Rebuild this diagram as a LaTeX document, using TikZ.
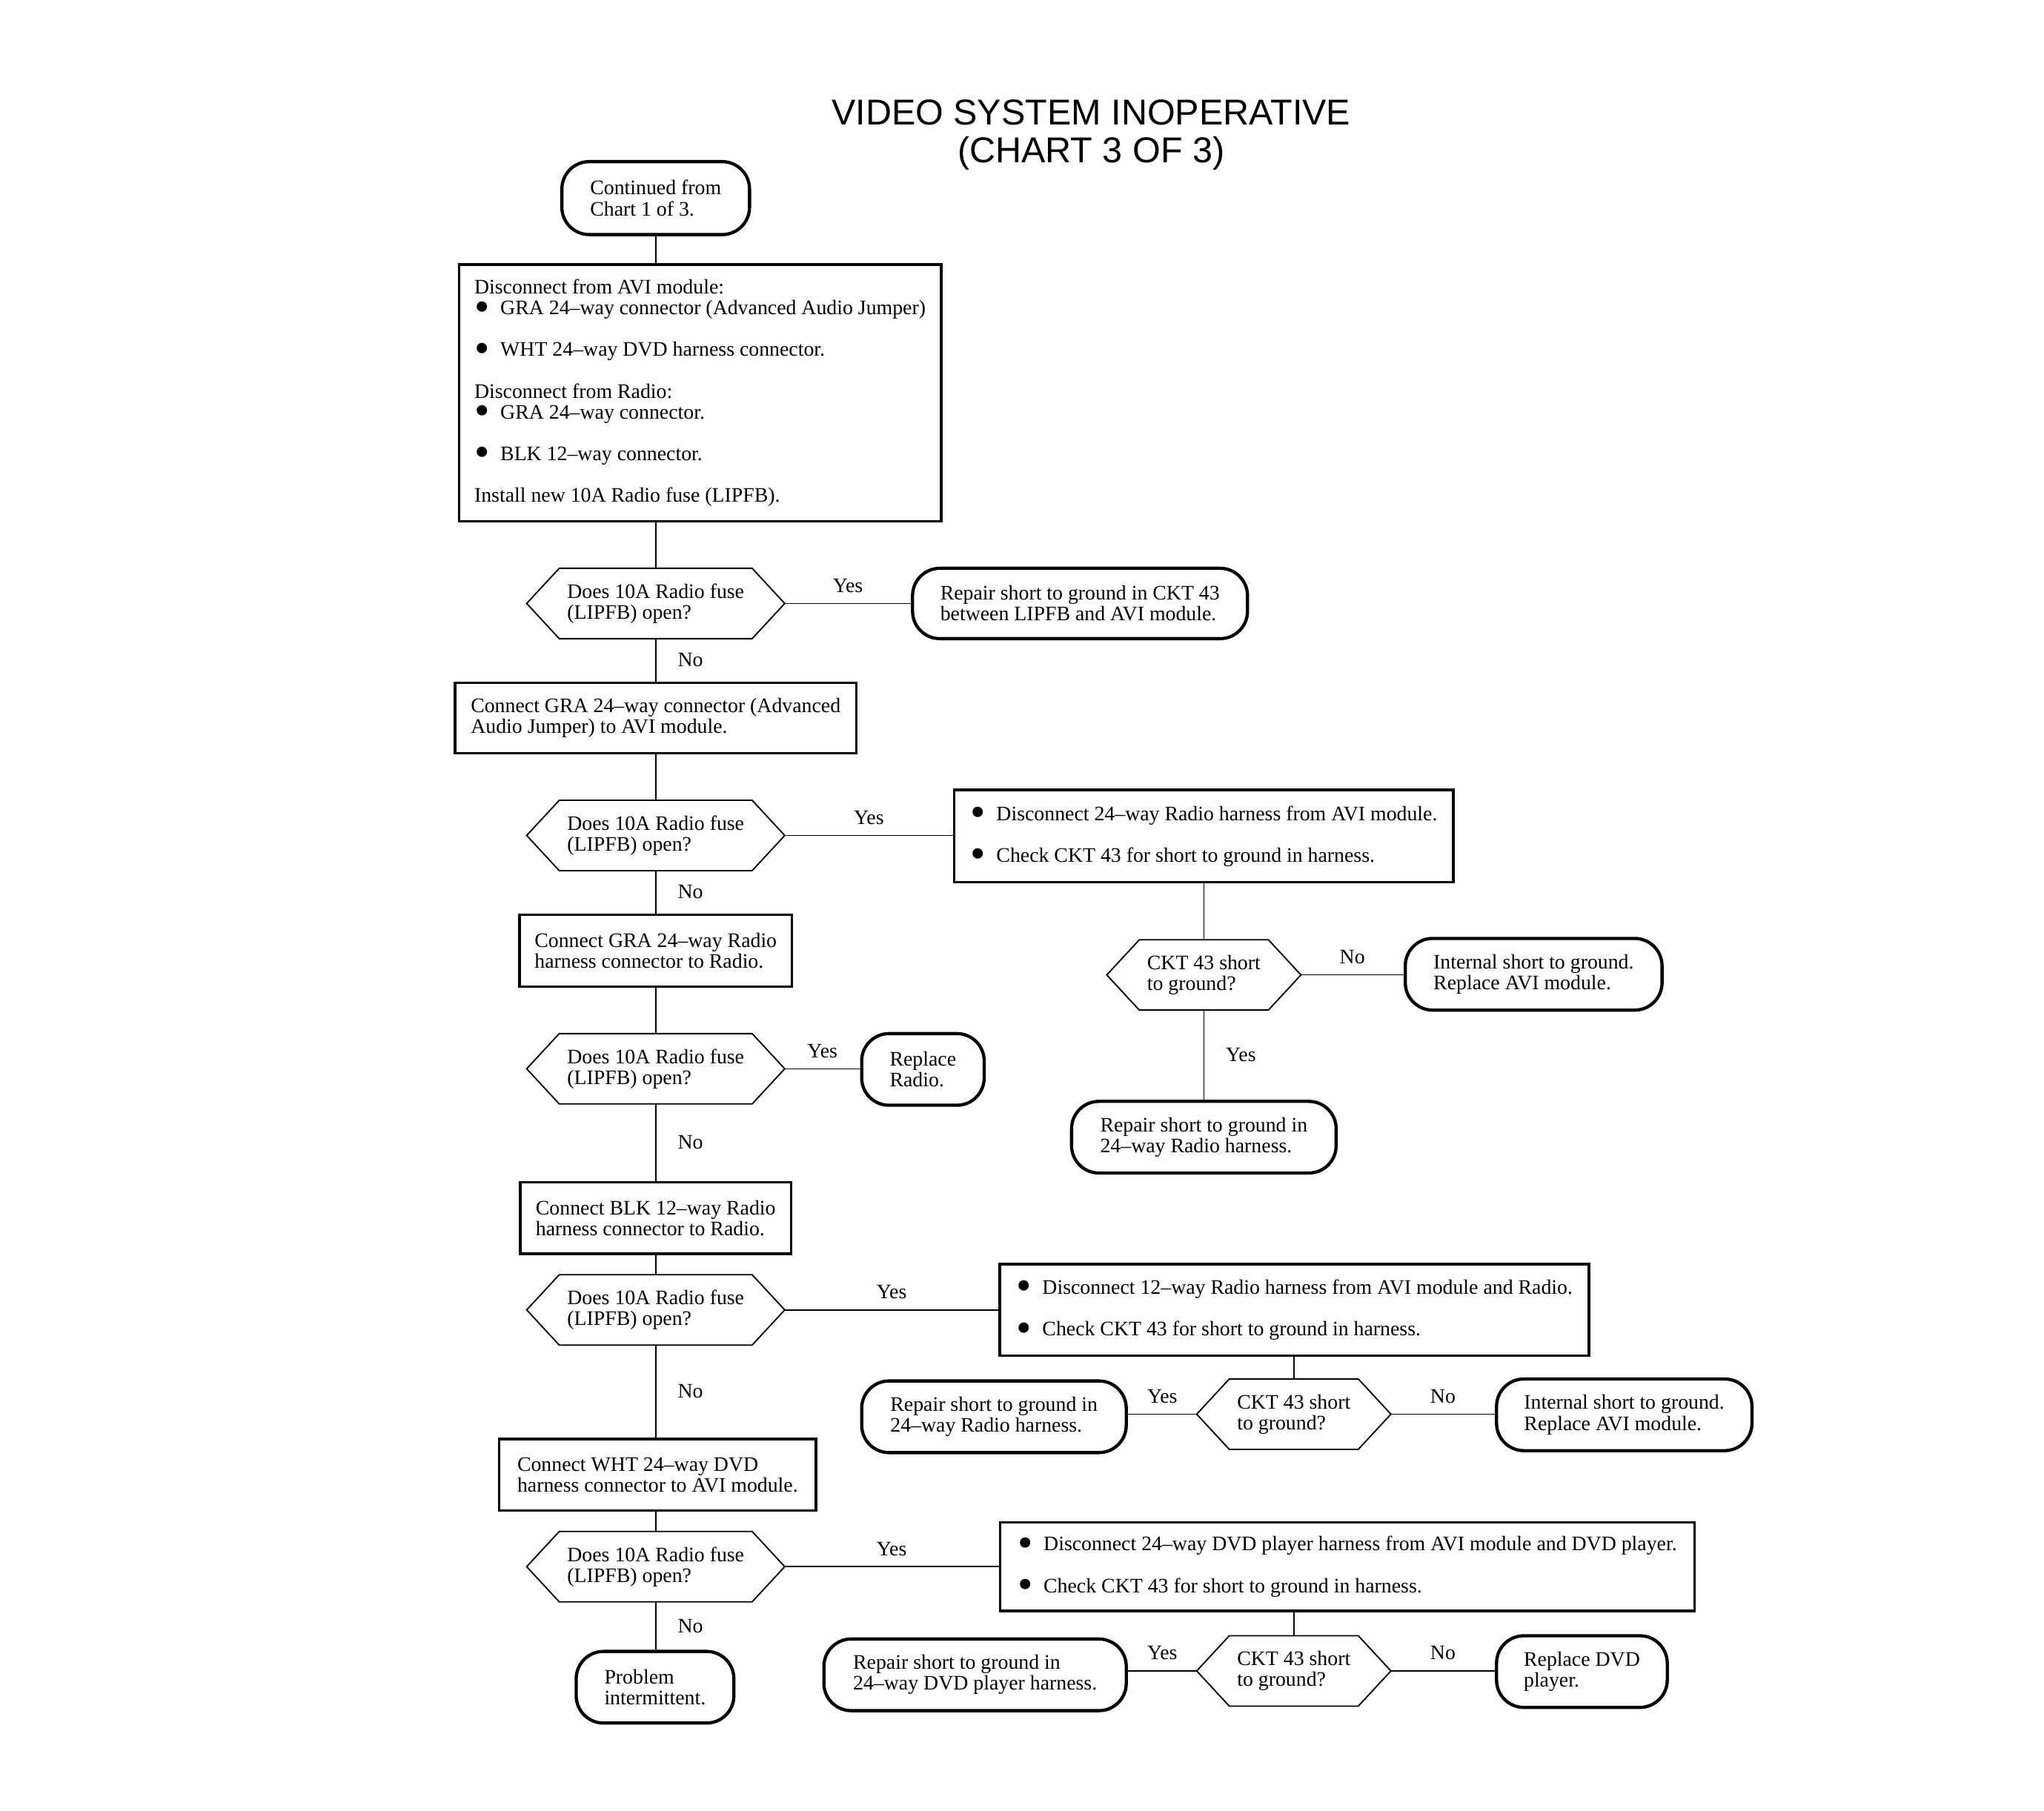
\documentclass[tikz,border=0pt]{standalone}
\usepackage{graphicx}
\usepackage{fontspec}
\setmainfont{Liberation Serif}
\newfontfamily\titlefont{Liberation Sans}

\newcommand{\itembul}{\makebox[0.4cm][l]{\raisebox{-0.3em}[0pt][0pt]{\scalebox{2.1}{\textbullet}}}}

\tikzset{
  chartfont/.style={font=\fontsize{9}{9.1}\selectfont},
  actbox/.style={draw, rectangle, line width=1.1pt, align=left, chartfont, inner sep=2pt},
  termbox/.style={draw, rectangle, line width=1.4pt, rounded corners=0.42cm, align=left, chartfont, inner sep=2pt},
  query/.style={rectangle, align=left, chartfont, outer sep=0pt, minimum width=3.96cm, minimum height=1.08cm},
  smallquery/.style={query, minimum width=2.98cm},
  queryline/.style={line width=0.6pt, line join=miter},
  link/.style={line width=0.5pt},
  hlabel/.style={midway, above=0.16cm, inner sep=0pt, chartfont},
  vlabel/.style={midway, right=0.33cm, inner sep=0pt, chartfont}
}

\begin{document}
\begin{tikzpicture}[x=0.02cm, y=-0.02cm]
\useasboundingbox (0,0) rectangle (1568,1389);

\node[align=center, font=\titlefont\fontsize{15.7}{16.5}\selectfont] (title) at (837,103.5) {VIDEO SYSTEM INOPERATIVE\\(CHART 3 OF 3)};

% main column
\node[termbox, minimum width=2.88cm, minimum height=1.12cm] (start) at (503,152) {Continued from\\Chart 1 of 3.};
\node[actbox, minimum width=7.4cm, minimum height=3.94cm] (disc) at (537,301.5) {Disconnect from AVI module:\\\itembul GRA 24--way connector (Advanced Audio Jumper)\\[9.1pt]\itembul WHT 24--way DVD harness connector.\\[9.1pt]Disconnect from Radio:\\\itembul GRA 24--way connector.\\[9.1pt]\itembul BLK 12--way connector.\\[9.1pt]Install new 10A Radio fuse (LIPFB).};
\node[query] (q1) at (503,463) {Does 10A Radio fuse\\(LIPFB) open?};
\node[actbox, minimum width=6.16cm, minimum height=1.08cm] (conn1) at (503,551) {Connect GRA 24--way connector (Advanced\\Audio Jumper) to AVI module.};
\node[query] (q2) at (503,641) {Does 10A Radio fuse\\(LIPFB) open?};
\node[actbox, minimum width=4.18cm, minimum height=1.1cm] (conn2) at (503,729.5) {Connect GRA 24--way Radio\\harness connector to Radio.};
\node[query] (q4) at (503,820) {Does 10A Radio fuse\\(LIPFB) open?};
\node[actbox, minimum width=4.16cm, minimum height=1.1cm] (conn3) at (503,934.5) {Connect BLK 12--way Radio\\harness connector to Radio.};
\node[query] (q5) at (503,1005) {Does 10A Radio fuse\\(LIPFB) open?};
\node[actbox, minimum width=4.86cm, minimum height=1.1cm] (conn4) at (504.5,1131.5) {Connect WHT 24--way DVD\\harness connector to AVI module.};
\node[query] (q7) at (503,1202) {Does 10A Radio fuse\\(LIPFB) open?};
\node[termbox, minimum width=2.42cm, minimum height=1.1cm] (fix9) at (502.5,1294.5) {Problem\\intermittent.};

% right side
\node[termbox, minimum width=5.14cm, minimum height=1.08cm] (fix1) at (828.5,463) {Repair short to ground in CKT 43\\between LIPFB and AVI module.};
\node[actbox, minimum width=7.66cm, minimum height=1.42cm] (check1) at (923.5,641.5) {\itembul Disconnect 24--way Radio harness from AVI module.\\[9.1pt]\itembul Check CKT 43 for short to ground in harness.};
\node[smallquery] (q3) at (923.5,748) {CKT 43 short\\to ground?};
\node[termbox, minimum width=3.94cm, minimum height=1.1cm] (fix2) at (1176.5,747.5) {Internal short to ground.\\Replace AVI module.};
\node[termbox, minimum width=4.06cm, minimum height=1.1cm] (fix3) at (923.5,872.5) {Repair short to ground in\\24--way Radio harness.};
\node[termbox, minimum width=1.88cm, minimum height=1.1cm] (fix4) at (708,820.5) {Replace\\Radio.};
\node[actbox, minimum width=9.04cm, minimum height=1.4cm] (check2) at (993,1005) {\itembul Disconnect 12--way Radio harness from AVI module and Radio.\\[9.1pt]\itembul Check CKT 43 for short to ground in harness.};
\node[smallquery] (q6) at (992.5,1085) {CKT 43 short\\to ground?};
\node[termbox, minimum width=4.06cm, minimum height=1.1cm] (fix5) at (762.5,1087) {Repair short to ground in\\24--way Radio harness.};
\node[termbox, minimum width=3.92cm, minimum height=1.1cm] (fix6) at (1246,1085.5) {Internal short to ground.\\Replace AVI module.};
\node[actbox, minimum width=10.66cm, minimum height=1.36cm] (check3) at (1033.5,1202) {\itembul Disconnect 24--way DVD player harness from AVI module and DVD player.\\[9.1pt]\itembul Check CKT 43 for short to ground in harness.};
\node[smallquery] (q8) at (992.5,1282) {CKT 43 short\\to ground?};
\node[termbox, minimum width=4.64cm, minimum height=1.1cm] (fix7) at (748,1285) {Repair short to ground in\\24--way DVD player harness.};
\node[termbox, minimum width=2.62cm, minimum height=1.1cm] (fix8) at (1213.5,1282.5) {Replace DVD\\player.};

% hexagon outlines of the questions
\foreach \q in {q1,q2,q3,q4,q5,q6,q7,q8}
  \draw[queryline] (\q.west) -- ([xshift=0.5cm]\q.north west) -- ([xshift=-0.5cm]\q.north east) -- (\q.east) -- ([xshift=-0.5cm]\q.south east) -- ([xshift=0.5cm]\q.south west) -- cycle;

% connectors
\draw[link] (start.south) -- (start.south |- disc.north);
\draw[link] (disc.south -| q1.north) -- (q1.north);
\draw[link] (q1.east) -- (fix1.west) node[hlabel] {Yes};
\draw[link] (q1.south) -- (conn1.north) node[vlabel] {No};
\draw[link] (conn1.south) -- (q2.north);
\draw[link] (q2.east) -- (q2.east -| check1.west) node[hlabel] {Yes};
\draw[link] (q2.south) -- (conn2.north) node[vlabel] {No};
\draw[link] (check1.south) -- (q3.north);
\draw[link] (q3.east) -- (q3.east -| fix2.west) node[hlabel] {No};
\draw[link] (q3.south) -- (fix3.north) node[vlabel] {Yes};
\draw[link] (conn2.south) -- (q4.north);
\draw[link] (q4.east) -- (q4.east -| fix4.west) node[hlabel] {Yes};
\draw[link] (q4.south) -- (conn3.north) node[vlabel] {No};
\draw[link] (conn3.south) -- (q5.north);
\draw[link] (q5.east) -- (q5.east -| check2.west) node[hlabel] {Yes};
\draw[link] (check2.south -| q6.north) -- (q6.north);
\draw[link] (q6.west) -- (q6.west -| fix5.east) node[hlabel] {Yes};
\draw[link] (q6.east) -- (q6.east -| fix6.west) node[hlabel] {No};
\draw[link] (q5.south) -- (q5.south |- conn4.north) node[vlabel] {No};
\draw[link] (q7.north |- conn4.south) -- (q7.north);
\draw[link] (q7.east) -- (q7.east -| check3.west) node[hlabel] {Yes};
\draw[link] (q8.north |- check3.south) -- (q8.north);
\draw[link] (q8.west) -- (q8.west -| fix7.east) node[hlabel] {Yes};
\draw[link] (q8.east) -- (q8.east -| fix8.west) node[hlabel] {No};
\draw[link] (q7.south) -- (q7.south |- fix9.north) node[vlabel] {No};

\end{tikzpicture}
\end{document}
